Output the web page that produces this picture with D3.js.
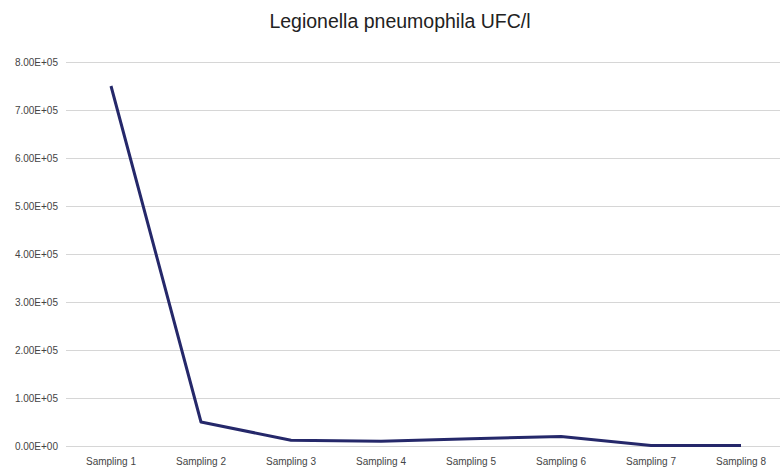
<!DOCTYPE html>
<html>
<head>
<meta charset="utf-8">
<script src="https://cdn.jsdelivr.net/npm/d3@7"></script>
<style>
  body { margin: 0; background: #fff; }
  svg { display: block; font-family: "Liberation Sans", Arial, sans-serif; }
</style>
</head>
<body>
<svg id="chart" width="780" height="472"></svg>
<script>
const categories = ['Sampling 1', 'Sampling 2', 'Sampling 3', 'Sampling 4',
  'Sampling 5', 'Sampling 6', 'Sampling 7', 'Sampling 8'];
const values = [750000, 50000, 12000, 10000, 15000, 20000, 1000, 1000];
const yTicks = [0, 100000, 200000, 300000, 400000, 500000, 600000, 700000, 800000];

const width = 780, height = 472;
const margin = { top: 62, right: -6, bottom: 26, left: 66 };

const svg = d3.select('#chart');

const x = d3.scaleBand()
  .domain(categories)
  .range([margin.left, width - margin.right]);

const y = d3.scaleLinear()
  .domain([0, 800000])
  .range([height - margin.bottom, margin.top]);

// title
svg.append('text')
  .attr('x', 400)
  .attr('y', 28)
  .attr('text-anchor', 'middle')
  .style('font-size', '19.5px')
  .attr('fill', '#222')
  .text('Legionella pneumophila UFC/l');

// gridlines + y labels
const yAxis = svg.append('g')
  .attr('transform', `translate(${margin.left},0)`)
  .call(d3.axisLeft(y).tickValues(yTicks)
    .tickSize(-(width - margin.left))
    .tickPadding(8)
    .tickFormat(d => d3.format('.2e')(d).toUpperCase().replace(/E([+-])(\d)$/, 'E$10$2')));
yAxis.select('.domain').remove();
yAxis.selectAll('.tick line').attr('stroke', '#d6d6d6').attr('stroke-width', 1);
yAxis.selectAll('.tick text').attr('fill', '#444').style('font-size', '10px');

// x labels
const xAxis = svg.append('g')
  .attr('transform', `translate(0,${height - margin.bottom})`)
  .call(d3.axisBottom(x).tickSize(0).tickPadding(12));
xAxis.select('.domain').remove();
xAxis.selectAll('.tick text').attr('fill', '#444').style('font-size', '10px');

// line
const line = d3.line()
  .x((d, i) => x(categories[i]) + x.bandwidth() / 2)
  .y(d => y(d));

svg.append('path')
  .datum(values)
  .attr('fill', 'none')
  .attr('stroke', '#25286a')
  .attr('stroke-width', 3)
  .attr('stroke-linejoin', 'round')
  .attr('d', line);
</script>
</body>
</html>
